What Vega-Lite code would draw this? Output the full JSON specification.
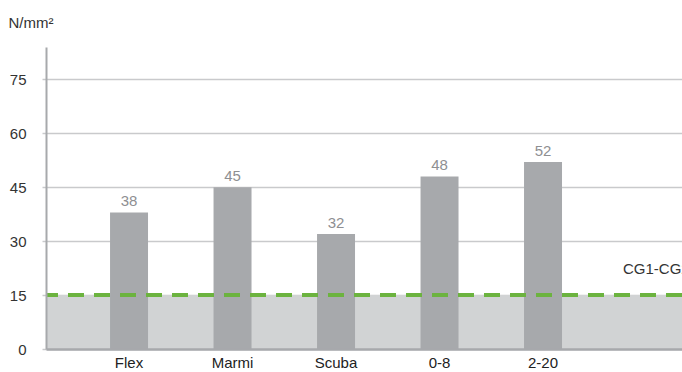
{
  "$schema": "https://vega.github.io/schema/vega-lite/v6.json",
  "width": 636,
  "height": 302,
  "autosize": "none",
  "padding": {"left": 46, "top": 47, "right": 0, "bottom": 23},
  "background": "white",
  "config": {"view": {"stroke": null}, "font": "Liberation Sans"},
  "data": {
    "values": [
      {"material": "Flex", "strength": 38},
      {"material": "Marmi", "strength": 45},
      {"material": "Scuba", "strength": 32},
      {"material": "0-8", "strength": 48},
      {"material": "2-20", "strength": 52}
    ]
  },
  "layer": [
    {
      "data": {"values": [{"from": 0, "to": 15}]},
      "mark": {"type": "rect", "color": "#d1d3d4"},
      "encoding": {
        "y": {
          "field": "from",
          "type": "quantitative",
          "scale": {"domain": [0, 84], "nice": false, "zero": true},
          "axis": {
            "orient": "left",
            "values": [0, 15, 30, 45, 60, 75],
            "grid": true,
            "gridColor": "#c9cacc",
            "gridWidth": 1.5,
            "domain": false,
            "ticks": true,
            "tickSize": 4,
            "tickColor": "#c9cacc",
            "tickWidth": 1.5,
            "labelFontSize": 15,
            "labelColor": "#333333",
            "labelPadding": 16,
            "title": "N/mm²",
            "titleAngle": 0,
            "titleAlign": "left",
            "titleBaseline": "alphabetic",
            "titleX": -38,
            "titleY": -20,
            "titleFontSize": 15,
            "titleFontWeight": "normal",
            "titleColor": "#333333",
            "zindex": 0
          }
        },
        "y2": {"field": "to"}
      }
    },
    {
      "mark": {"type": "bar", "color": "#a7a9ac"},
      "encoding": {
        "x": {
          "field": "material",
          "type": "nominal",
          "sort": null,
          "scale": {"paddingInner": 0.633, "paddingOuter": 0.889, "align": 0.348},
          "axis": {
            "title": null,
            "labelAngle": 0,
            "labelFontSize": 15,
            "labelColor": "#222222",
            "labelPadding": 6,
            "ticks": false,
            "grid": false,
            "domain": true,
            "domainColor": "#a7a9ac",
            "domainWidth": 2.5,
            "zindex": 1,
            "encode": {
              "labels": {"update": {"dy": {"signal": "datum.value === '2-20' ? 3 : 0"}}}
            }
          }
        },
        "y": {
          "field": "strength",
          "type": "quantitative",
          "axis": {
            "orient": "left",
            "title": null,
            "labels": false,
            "ticks": false,
            "grid": false,
            "domain": true,
            "domainColor": "#a7a9ac",
            "domainWidth": 2,
            "zindex": 1
          }
        }
      }
    },
    {
      "data": {"values": [{"limit": 15}]},
      "mark": {"type": "rule", "color": "#6cb33f", "strokeWidth": 4, "strokeDash": [16, 10]},
      "encoding": {"y": {"field": "limit", "type": "quantitative", "axis": null}}
    },
    {
      "mark": {"type": "text", "dy": -6, "baseline": "alphabetic", "fontSize": 15, "color": "#8e8f92"},
      "encoding": {
        "x": {"field": "material", "type": "nominal", "sort": null},
        "y": {"field": "strength", "type": "quantitative", "axis": null},
        "text": {"field": "strength", "type": "quantitative"}
      }
    },
    {
      "data": {"values": [{"material": "2-20", "level": 21, "label": "CG1-CG2"}]},
      "mark": {"type": "text", "align": "left", "baseline": "alphabetic", "dx": 80, "fontSize": 15, "fontWeight": "normal", "color": "#333333"},
      "encoding": {
        "x": {"field": "material", "type": "nominal", "sort": null},
        "y": {"field": "level", "type": "quantitative", "axis": null},
        "text": {"field": "label"}
      }
    }
  ],
  "resolve": {"axis": {"y": "independent"}}
}
